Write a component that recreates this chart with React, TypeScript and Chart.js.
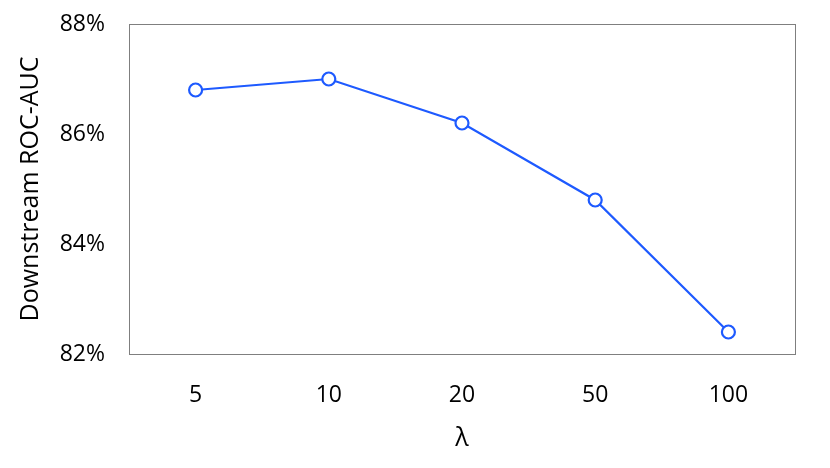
import React, { useEffect, useRef } from "react";
import { Chart, registerables } from "chart.js";
Chart.register(...registerables);

const categories = ["5", "10", "20", "50", "100"];
const aucValues = [86.8, 87.0, 86.2, 84.8, 82.4];
const yTicks = [82, 84, 86, 88];

const FONT = "Open Sans";

const borderPlugin = {
  id: "boxBorder",
  afterDraw(chart: any) {
    const { ctx, chartArea } = chart;
    ctx.save();
    ctx.strokeStyle = "#7f7f7f";
    ctx.lineWidth = 1;
    ctx.strokeRect(
      Math.round(chartArea.left) + 0.5,
      Math.round(chartArea.top) + 0.5,
      Math.round(chartArea.right - chartArea.left),
      Math.round(chartArea.bottom - chartArea.top)
    );
    ctx.restore();
  },
};

export default function App() {
  const ref = useRef<HTMLCanvasElement>(null);
  useEffect(() => {
    document.body.style.margin = "0";
    const chart = new Chart(ref.current!, {
      type: "line",
      data: {
        labels: categories,
        datasets: [
          {
            data: aucValues,
            borderColor: "#1E5AFF",
            borderWidth: 2.2,
            pointRadius: 6.5,
            pointBorderWidth: 2.2,
            pointBackgroundColor: "#ffffff",
            pointBorderColor: "#1E5AFF",
            tension: 0,
          },
        ],
      },
      options: {
        animation: false,
        responsive: false,
        maintainAspectRatio: false,
        layout: { padding: { left: 16, right: 35, top: 24, bottom: 14 } },
        plugins: { legend: { display: false }, tooltip: { enabled: false } },
        scales: {
          x: {
            type: "category",
            offset: true,
            grid: { display: false },
            border: { display: false },
            ticks: { color: "#000", font: { family: FONT, size: 23 }, padding: 20 },
            title: {
              display: true,
              text: "λ",
              color: "#000",
              font: { family: FONT, size: 25 },
              padding: { top: 6, bottom: 0 },
            },
            afterFit: (s: any) => {
              s.height = 100;
              s.paddingLeft = 0;
              s.paddingRight = 0;
            },
          },
          y: {
            min: 82,
            max: 88,
            afterBuildTicks: (s: any) => {
              s.ticks = yTicks.map((v) => ({ value: v }));
            },
            grid: { display: false },
            border: { display: false },
            ticks: {
              color: "#000",
              font: { family: FONT, size: 23 },
              padding: 16,
              callback: (v: any) => v + "%",
            },
            title: {
              display: true,
              text: "Downstream ROC-AUC",
              color: "#000",
              font: { family: FONT, size: 25 },
              padding: { top: 0, bottom: 8 },
            },
            afterFit: (s: any) => {
              s.width = 113;
              s.paddingTop = 0;
              s.paddingBottom = 0;
            },
          },
        },
      },
      plugins: [borderPlugin],
    });
    return () => chart.destroy();
  }, []);
  return (
    <div style={{ width: 830, height: 468 }}>
      <canvas ref={ref} width={830} height={468} style={{ display: "block" }} />
    </div>
  );
}
